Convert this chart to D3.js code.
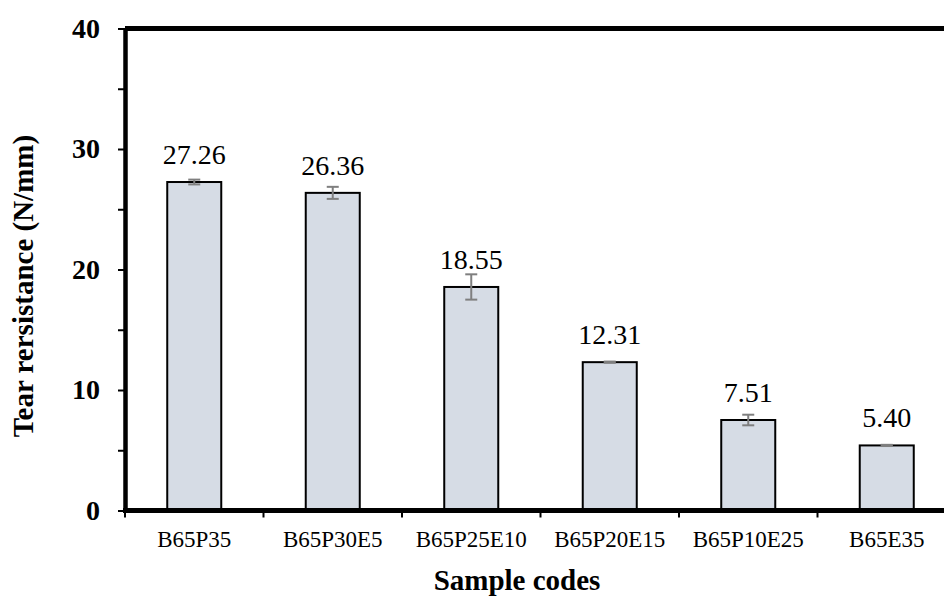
<!DOCTYPE html>
<html>
<head>
<meta charset="utf-8">
<script src="https://cdn.jsdelivr.net/npm/d3@7"></script>
<style>
  html, body { margin: 0; padding: 0; background: #fff; }
  svg { display: block; }
  svg text { font-family: "Liberation Serif", "Times New Roman", Times, "DejaVu Serif", serif; }
</style>
</head>
<body>
<div id="chart"></div>
<script>
// Tear resistance per sample
const categories = ["B65P35", "B65P30E5", "B65P25E10", "B65P20E15", "B65P10E25", "B65E35"];
const values = [27.26, 26.36, 18.55, 12.31, 7.51, 5.40];
const errors = [0.2, 0.5, 1.05, 0.05, 0.44, 0.05];
const yTicks = [0, 5, 10, 15, 20, 25, 30, 35, 40];

const width = 944, height = 597;
const margin = { left: 125, top: 28.5 };
const plotW = 831;   // runs past the right edge, like the original crop
const plotH = 482;

const svg = d3.select("#chart").append("svg")
    .attr("width", width)
    .attr("height", height);

const x = d3.scaleBand()
    .domain(categories)
    .range([margin.left, margin.left + plotW])
    .paddingInner(0.61)
    .paddingOuter(0.305);

const y = d3.scaleLinear()
    .domain([0, 40])
    .range([margin.top + plotH, margin.top]);

// bars
svg.append("g")
    .selectAll("rect")
    .data(values)
    .join("rect")
    .attr("x", (d, i) => x(categories[i]))
    .attr("y", d => y(d))
    .attr("width", x.bandwidth())
    .attr("height", d => y(0) - y(d))
    .attr("fill", "#d6dce5")
    .attr("stroke", "#000")
    .attr("stroke-width", 2);

// error bars
const err = svg.append("g")
    .attr("stroke", "#7f7f7f")
    .attr("stroke-width", 2);
values.forEach((v, i) => {
    const cx = x(categories[i]) + x.bandwidth() / 2;
    const e = errors[i];
    err.append("line")
        .attr("x1", cx).attr("x2", cx)
        .attr("y1", y(v + e)).attr("y2", y(v - e));
    [v + e, v - e].forEach(t => {
        err.append("line")
            .attr("x1", cx - 6).attr("x2", cx + 6)
            .attr("y1", y(t)).attr("y2", y(t));
    });
});

// value labels
svg.append("g")
    .selectAll("text")
    .data(values)
    .join("text")
    .attr("x", (d, i) => x(categories[i]) + x.bandwidth() / 2)
    .attr("y", d => y(d) - 18)
    .attr("text-anchor", "middle")
    .style("font-size", "28px")
    .attr("fill", "#000")
    .text(d => d.toFixed(2));

// top frame line
svg.append("line")
    .attr("x1", margin.left).attr("x2", margin.left + plotW)
    .attr("y1", y(40)).attr("y2", y(40))
    .attr("stroke", "#000")
    .attr("stroke-width", 5);

// y axis
const yAxis = svg.append("g")
    .attr("transform", `translate(${margin.left},0)`)
    .call(d3.axisLeft(y)
        .tickValues(yTicks)
        .tickSize(7)
        .tickSizeOuter(0)
        .tickPadding(18)
        .tickFormat(d => d % 10 === 0 ? d : ""));
yAxis.attr("font-family", null).attr("font-size", null);
yAxis.select(".domain").attr("stroke-width", 4.5);
yAxis.selectAll(".tick line").attr("stroke-width", 2);
yAxis.selectAll(".tick text")
    .style("font-size", "28px")
    .style("font-weight", "bold")
    .attr("fill", "#000");

// x axis: ticks sit on the band boundaries
const xAxis = svg.append("g")
    .attr("transform", `translate(0,${y(0)})`);
xAxis.append("line")
    .attr("x1", margin.left - 2).attr("x2", margin.left + plotW)
    .attr("stroke", "#000")
    .attr("stroke-width", 5);
xAxis.selectAll(".xtick")
    .data(d3.range(categories.length + 1))
    .join("line")
    .attr("class", "xtick")
    .attr("x1", i => margin.left + i * x.step())
    .attr("x2", i => margin.left + i * x.step())
    .attr("y1", 0).attr("y2", 7)
    .attr("stroke", "#000")
    .attr("stroke-width", 2);
xAxis.selectAll("text")
    .data(categories)
    .join("text")
    .attr("x", d => x(d) + x.bandwidth() / 2)
    .attr("y", 36.5)
    .attr("text-anchor", "middle")
    .style("font-size", "23px")
    .attr("fill", "#000")
    .text(d => d);

// axis titles
svg.append("text")
    .attr("x", 517)
    .attr("y", 590)
    .attr("text-anchor", "middle")
    .style("font-size", "29px")
    .style("font-weight", "bold")
    .text("Sample codes");

svg.append("text")
    .attr("transform", "translate(33,286) rotate(-90)")
    .attr("text-anchor", "middle")
    .style("font-size", "29px")
    .style("font-weight", "bold")
    .text("Tear rersistance (N/mm)");
</script>
</body>
</html>
